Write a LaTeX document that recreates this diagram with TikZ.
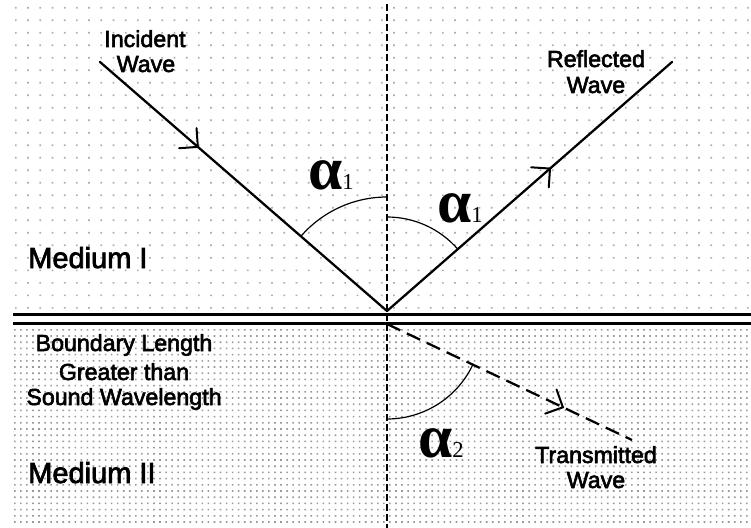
\documentclass[tikz,border=0pt]{standalone}
\usepackage{fontspec}
\setmainfont{Liberation Sans}
\newfontfamily\heavy{Liberation Sans}[FakeBold=2.5]
\newfontfamily\grkfont{Liberation Serif}
\usetikzlibrary{decorations.markings}
\tikzset{
  ray/.style={line width=1.7pt, line cap=round},
  tray/.style={line width=1.7pt, dash pattern=on 11pt off 5.5pt},
  normalline/.style={line width=0.9pt, dash pattern=on 5pt off 2.5pt},
  anglearc/.style={line width=0.9pt},
  lbl/.style={inner sep=0pt, anchor=base, font=\heavy\fontsize{17.4}{20}\selectfont},
  medium/.style={inner sep=0pt, anchor=base west, font=\heavy\fontsize{21.75}{24}\selectfont},
  angletxt/.style={inner sep=0pt, anchor=base west},
  chevron at/.style={postaction={decorate}, decoration={markings,
      mark=at position #1 with {\draw[solid, line width=1.5pt, line cap=round, line join=miter]
        (-10pt,10pt) -- (0pt,0pt) -- (-10pt,-10pt);}}},
}
\newcommand{\angsym}[1]{{\grkfont\bfseries\fontsize{46}{50}\selectfont α}{\grkfont\fontsize{17}{20}\selectfont #1}}
\begin{document}
\begin{tikzpicture}[x=0.75pt, y=-0.75pt]
\useasboundingbox (0,0) rectangle (751,528);
\fill[white] (0,0) rectangle (751,528);
% dot grids
\fill[black!32] \foreach \i in {0,...,60} {\foreach \j in {0,...,24} {(15+\i*12.2, 7+\j*12.5) rectangle ++(1.7,1.7)}};
\fill[black!40] \foreach \i in {0,...,122} {\foreach \j in {0,...,31} {(14+\i*6.05, 329+\j*6.2) rectangle ++(1.6,1.6)}};
% key points
\coordinate (O) at (387,311);
\coordinate (O2) at (387,324);
\coordinate (Ist) at (100,62);
\coordinate (Rend) at (672,62);
\coordinate (Tend) at (632,440);
\coordinate (Vtop) at (387,4);
\coordinate (Vbot) at (387,528);
\coordinate (B1l) at (13,314.5);
\coordinate (B1r) at (751,314.5);
\coordinate (B2l) at (13,323.5);
\coordinate (B2r) at (751,323.5);
% normal
\draw[normalline] (Vtop) -- (Vbot);
% boundary
\draw[line width=1.6pt] (B1l) -- (B1r);
\draw[line width=2pt] (B2l) -- (B2r);
% rays
\draw[ray, chevron at=0.341] (Ist) -- (O);
\draw[ray, chevron at=0.572] (O) -- (Rend);
\draw[tray, chevron at=0.718] (O2) -- (Tend);
% angle arcs
\draw[anglearc] ([shift={(270:114)}]O) arc[start angle=270, end angle=220.8, radius=114];
\draw[anglearc] ([shift={(270:94)}]O) arc[start angle=270, end angle=319, radius=94];
\draw[anglearc] ([shift={(90:95)}]O2) arc[start angle=90, end angle=25.7, radius=95];
% angle labels
\node[angletxt] (a1l) at (308,190) {\angsym{1}};
\node[angletxt] (a1r) at (437,223) {\angsym{1}};
\node[angletxt] (a2) at (418,457) {\angsym{2}};
% text labels
\node[lbl] (inc1) at (145,47) {Incident};
\node[lbl] (inc2) at (146,72) {Wave};
\node[lbl] (ref1) at (596,67) {Reflected};
\node[lbl] (ref2) at (596,93) {Wave};
\node[lbl] (tr1) at (596,463) {Transmitted};
\node[lbl] (tr2) at (596,488) {Wave};
\node[medium] (m1) at (28,268) {Medium I};
\node[medium] (m2) at (28,483) {Medium II};
\node[lbl] (bd1) at (124,351) {Boundary Length};
\node[lbl] (bd2) at (124,380) {Greater than};
\node[lbl] (bd3) at (124,405) {Sound Wavelength};
\end{tikzpicture}
\end{document}
